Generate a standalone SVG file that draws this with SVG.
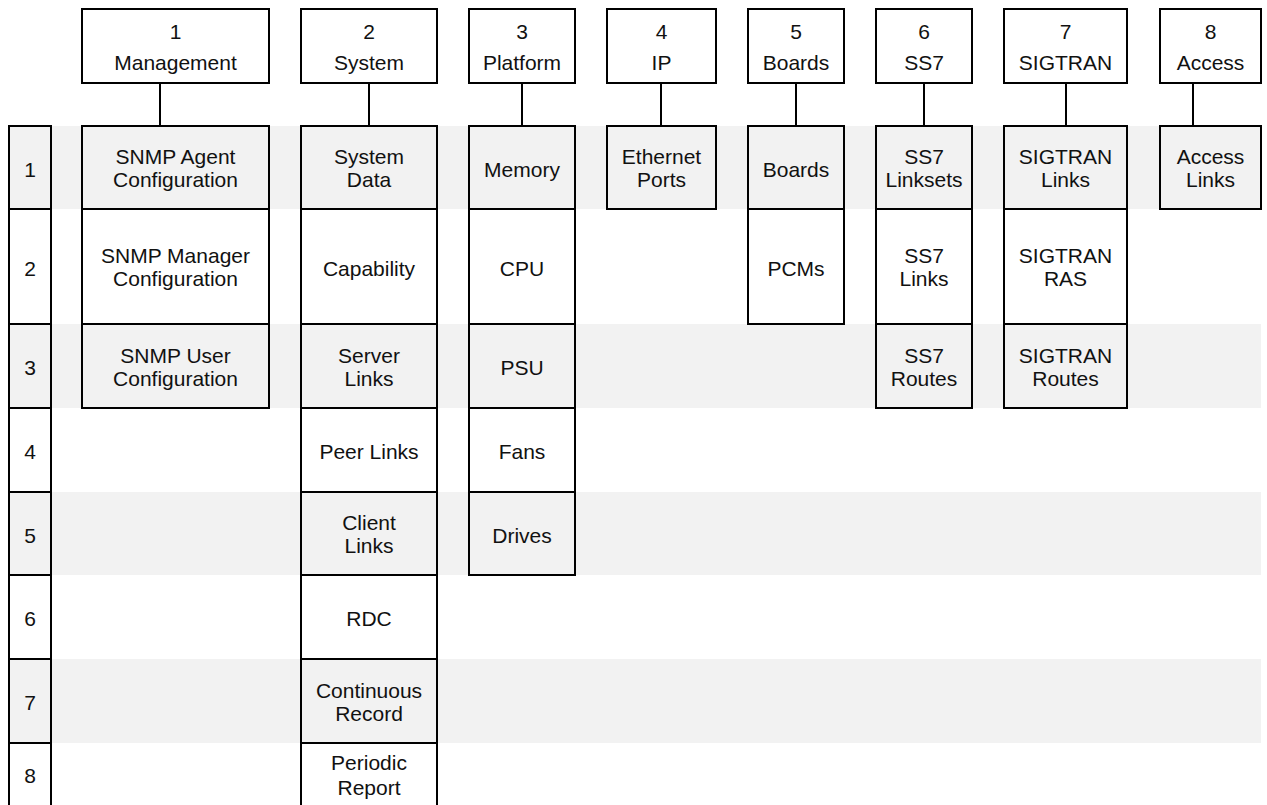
<svg xmlns="http://www.w3.org/2000/svg" width="1267" height="805" viewBox="0 0 1267 805">
<style>
.bx{stroke:#000;stroke-width:2;fill:#fff}
.g{fill:#f2f2f2}
.stripe{fill:#f2f2f2}
text{font-family:"Liberation Sans",Arial,sans-serif;font-size:21px;fill:#111;text-anchor:middle}
.cn{stroke:#000;stroke-width:2;fill:none}
</style>
<rect width="1267" height="805" fill="#fff"/>
<g id="stripes">
<rect class="stripe" x="51" y="126" width="1210" height="83"/>
<rect class="stripe" x="51" y="324" width="1210" height="84"/>
<rect class="stripe" x="51" y="492" width="1210" height="83"/>
<rect class="stripe" x="51" y="659" width="1210" height="84"/>
</g>
<g id="connectors">
<line class="cn" x1="160" y1="83" x2="160" y2="126"/>
<line class="cn" x1="369" y1="83" x2="369" y2="126"/>
<line class="cn" x1="522" y1="83" x2="522" y2="126"/>
<line class="cn" x1="661" y1="83" x2="661" y2="126"/>
<line class="cn" x1="796" y1="83" x2="796" y2="126"/>
<line class="cn" x1="924" y1="83" x2="924" y2="126"/>
<line class="cn" x1="1066" y1="83" x2="1066" y2="126"/>
<line class="cn" x1="1193" y1="83" x2="1193" y2="126"/>
</g>
<g id="row-labels">
<g id="row1"><rect class="bx g" x="9" y="126" width="42" height="83"/><text x="30" y="176.5">1</text></g>
<g id="row2"><rect class="bx" x="9" y="209" width="42" height="115"/><text x="30" y="275.5">2</text></g>
<g id="row3"><rect class="bx g" x="9" y="324" width="42" height="84"/><text x="30" y="375">3</text></g>
<g id="row4"><rect class="bx" x="9" y="408" width="42" height="84"/><text x="30" y="459">4</text></g>
<g id="row5"><rect class="bx g" x="9" y="492" width="42" height="83"/><text x="30" y="542.5">5</text></g>
<g id="row6"><rect class="bx" x="9" y="575" width="42" height="84"/><text x="30" y="626">6</text></g>
<g id="row7"><rect class="bx g" x="9" y="659" width="42" height="84"/><text x="30" y="710">7</text></g>
<g id="row8"><rect class="bx" x="9" y="743" width="42" height="66"/><text x="30" y="783">8</text></g>
</g>
<g id="headers">
<g id="h1"><rect class="bx" x="82" y="9" width="187" height="74"/><text x="175.5" y="39">1</text><text x="175.5" y="70">Management</text></g>
<g id="h2"><rect class="bx" x="301" y="9" width="136" height="74"/><text x="369" y="39">2</text><text x="369" y="70">System</text></g>
<g id="h3"><rect class="bx" x="469" y="9" width="106" height="74"/><text x="522" y="39">3</text><text x="522" y="70">Platform</text></g>
<g id="h4"><rect class="bx" x="607" y="9" width="109" height="74"/><text x="661.5" y="39">4</text><text x="661.5" y="70">IP</text></g>
<g id="h5"><rect class="bx" x="748" y="9" width="96" height="74"/><text x="796" y="39">5</text><text x="796" y="70">Boards</text></g>
<g id="h6"><rect class="bx" x="876" y="9" width="96" height="74"/><text x="924" y="39">6</text><text x="924" y="70">SS7</text></g>
<g id="h7"><rect class="bx" x="1004" y="9" width="123" height="74"/><text x="1065.5" y="39">7</text><text x="1065.5" y="70">SIGTRAN</text></g>
<g id="h8"><rect class="bx" x="1160" y="9" width="101" height="74"/><text x="1210.5" y="39">8</text><text x="1210.5" y="70">Access</text></g>
</g>
<g id="col1">
<g id="snmp-agent"><rect class="bx g" x="82" y="126" width="187" height="83"/><text x="175.5" y="164">SNMP Agent</text><text x="175.5" y="187">Configuration</text></g>
<g id="snmp-manager"><rect class="bx" x="82" y="209" width="187" height="115"/><text x="175.5" y="263">SNMP Manager</text><text x="175.5" y="286">Configuration</text></g>
<g id="snmp-user"><rect class="bx g" x="82" y="324" width="187" height="84"/><text x="175.5" y="362.5">SNMP User</text><text x="175.5" y="385.5">Configuration</text></g>
</g>
<g id="col2">
<g id="system-data"><rect class="bx g" x="301" y="126" width="136" height="83"/><text x="369" y="164">System</text><text x="369" y="187">Data</text></g>
<g id="capability"><rect class="bx" x="301" y="209" width="136" height="115"/><text x="369" y="275.5">Capability</text></g>
<g id="server-links"><rect class="bx g" x="301" y="324" width="136" height="84"/><text x="369" y="362.5">Server</text><text x="369" y="385.5">Links</text></g>
<g id="peer-links"><rect class="bx" x="301" y="408" width="136" height="84"/><text x="369" y="459">Peer Links</text></g>
<g id="client-links"><rect class="bx g" x="301" y="492" width="136" height="83"/><text x="369" y="530">Client</text><text x="369" y="553">Links</text></g>
<g id="rdc"><rect class="bx" x="301" y="575" width="136" height="84"/><text x="369" y="626">RDC</text></g>
<g id="continuous-record"><rect class="bx g" x="301" y="659" width="136" height="84"/><text x="369" y="697.5">Continuous</text><text x="369" y="720.5">Record</text></g>
<g id="periodic-report"><rect class="bx" x="301" y="743" width="136" height="66"/><text x="369" y="770">Periodic</text><text x="369" y="795">Report</text></g>
</g>
<g id="col3">
<g id="memory"><rect class="bx g" x="469" y="126" width="106" height="83"/><text x="522" y="176.5">Memory</text></g>
<g id="cpu"><rect class="bx" x="469" y="209" width="106" height="115"/><text x="522" y="275.5">CPU</text></g>
<g id="psu"><rect class="bx g" x="469" y="324" width="106" height="84"/><text x="522" y="375">PSU</text></g>
<g id="fans"><rect class="bx" x="469" y="408" width="106" height="84"/><text x="522" y="459">Fans</text></g>
<g id="drives"><rect class="bx g" x="469" y="492" width="106" height="83"/><text x="522" y="542.5">Drives</text></g>
</g>
<g id="col4">
<g id="ethernet-ports"><rect class="bx g" x="607" y="126" width="109" height="83"/><text x="661.5" y="164">Ethernet</text><text x="661.5" y="187">Ports</text></g>
</g>
<g id="col5">
<g id="boards"><rect class="bx g" x="748" y="126" width="96" height="83"/><text x="796" y="176.5">Boards</text></g>
<g id="pcms"><rect class="bx" x="748" y="209" width="96" height="115"/><text x="796" y="275.5">PCMs</text></g>
</g>
<g id="col6">
<g id="ss7-linksets"><rect class="bx g" x="876" y="126" width="96" height="83"/><text x="924" y="164">SS7</text><text x="924" y="187">Linksets</text></g>
<g id="ss7-links"><rect class="bx" x="876" y="209" width="96" height="115"/><text x="924" y="263">SS7</text><text x="924" y="286">Links</text></g>
<g id="ss7-routes"><rect class="bx g" x="876" y="324" width="96" height="84"/><text x="924" y="362.5">SS7</text><text x="924" y="385.5">Routes</text></g>
</g>
<g id="col7">
<g id="sigtran-links"><rect class="bx g" x="1004" y="126" width="123" height="83"/><text x="1065.5" y="164">SIGTRAN</text><text x="1065.5" y="187">Links</text></g>
<g id="sigtran-ras"><rect class="bx" x="1004" y="209" width="123" height="115"/><text x="1065.5" y="263">SIGTRAN</text><text x="1065.5" y="286">RAS</text></g>
<g id="sigtran-routes"><rect class="bx g" x="1004" y="324" width="123" height="84"/><text x="1065.5" y="362.5">SIGTRAN</text><text x="1065.5" y="385.5">Routes</text></g>
</g>
<g id="col8">
<g id="access-links"><rect class="bx g" x="1160" y="126" width="101" height="83"/><text x="1210.5" y="164">Access</text><text x="1210.5" y="187">Links</text></g>
</g>
</svg>
